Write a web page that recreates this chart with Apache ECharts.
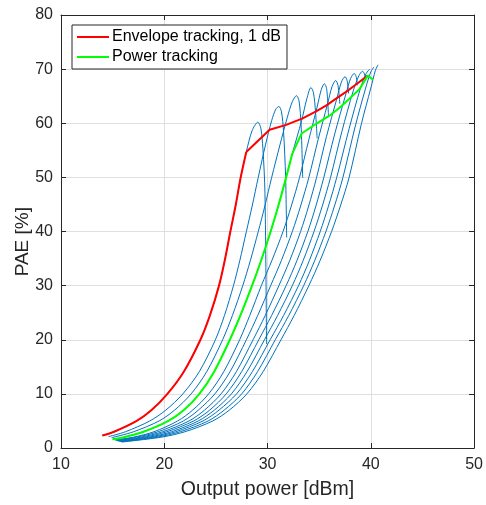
<!DOCTYPE html>
<html>
<head>
<meta charset="utf-8">
<script src="https://cdn.jsdelivr.net/npm/echarts@6/dist/echarts.min.js"></script>
<style>
html,body{margin:0;padding:0;background:#fff;}
#chart{width:486px;height:505px;}
</style>
</head>
<body>
<div id="chart"></div>
<script>
// Axis ticks
const xTicks = [10, 20, 30, 40, 50];
const yTicks = [0, 10, 20, 30, 40, 50, 60, 70, 80];

// Blue PAE curves, one per supply voltage: [Pout dBm, PAE %]
const vdd1 = [[14.0,2.3],[15.14,3],[17.33,5],[18.77,7],[20.3,10],[21.89,14.1],[23.5,20],[24.42,24.5],[25.3,30],[25.85,34.6],[26.4,40],[26.9,44.7],[27.4,50],[27.94,54.7],[28.5,58.6],[29.06,60.2],[29.35,59.1],[29.55,55.3],[29.75,47],[29.9,19.2]];
const vdd2 = [[14.6,2.1],[16.24,3],[18.6,5],[20.15,7],[21.8,10],[23.39,14.1],[24.95,20],[25.83,24.5],[26.7,30],[27.31,34.6],[27.95,40],[28.51,44.7],[29.1,50],[29.8,56],[30.4,60.5],[30.8,62.6],[31.1,63.1],[31.35,62.1],[31.55,58.4],[31.75,50],[31.85,38.9]];
const vdd3 = [[14.9,1.9],[17.02,3],[19.5,5],[21.0,7],[22.6,10],[24.11,14.1],[25.65,20],[26.6,24.5],[27.6,30],[28.33,34.6],[29.1,40],[29.74,44.7],[30.4,50],[31.2,56],[31.9,61],[32.4,64],[32.8,65.1],[33.05,64.1],[33.25,59.5],[33.4,49.9]];
const vdd4 = [[15.0,1.6],[16.1,2],[18.0,3],[20.4,5],[21.9,7],[23.4,10],[24.83,14.1],[26.35,20],[27.37,24.5],[28.5,30],[29.37,34.6],[30.3,40],[31.04,44.7],[31.8,50],[32.4,54.4],[33.3,60.5],[33.8,64.5],[34.2,66.6],[34.45,65.6],[34.65,62],[34.8,57.2]];
const vdd5 = [[15.2,1.5],[17.0,2],[19.0,3],[21.3,5],[22.75,7],[24.3,10],[25.76,14.1],[27.3,20],[28.28,24.5],[29.4,30],[30.41,34.6],[31.5,40],[32.3,44.7],[33.1,50],[34.0,57],[34.8,63],[35.2,66.2],[35.5,67.3],[35.72,66.4],[35.9,61.4]];
const vdd6 = [[15.3,1.4],[17.3,2],[19.4,3],[21.85,5],[23.3,7],[24.9,10],[26.37,14.1],[27.95,20],[29.05,24.5],[30.3,30],[31.33,34.6],[32.4,40],[33.2,44.7],[34.0,50],[34.9,57],[35.8,63.5],[36.25,66.8],[36.6,67.9],[36.82,67.0],[37.0,63.6]];
const vdd7 = [[15.4,1.35],[17.7,2],[19.85,3],[22.4,5],[23.9,7],[25.5,10],[26.98,14.1],[28.6,20],[29.78,24.5],[31.1,30],[32.14,34.6],[33.2,40],[33.98,44.7],[34.75,50],[35.7,57.5],[36.7,64.5],[37.15,67.6],[37.5,68.6],[37.7,67.9],[37.85,65.5]];
const vdd8 = [[15.5,1.3],[18.1,2],[20.25,3],[22.85,5],[24.4,7],[26.0,10],[27.49,14.1],[29.15,20],[30.4,24.5],[31.8,30],[32.84,34.6],[33.9,40],[34.68,44.7],[35.45,50],[36.5,58],[37.6,65.5],[38.05,68.3],[38.4,69.2],[38.58,68.6],[38.7,67.0]];
const vdd9 = [[15.6,1.25],[18.5,2],[20.7,3],[23.3,5],[24.85,7],[26.5,10],[28.01,14.1],[29.7,20],[30.98,24.5],[32.4,30],[33.44,34.6],[34.5,40],[35.3,44.7],[36.1,50],[37.2,58.5],[38.3,66],[38.85,68.8],[39.2,69.6],[39.38,69.1],[39.5,68.0]];
const vdd10 = [[15.7,1.2],[18.9,2],[21.1,3],[23.75,5],[25.3,7],[27.0,10],[28.53,14.1],[30.25,20],[31.56,24.5],[33.0,30],[34.04,34.6],[35.1,40],[35.9,44.7],[36.7,50],[37.9,59],[39.0,66.5],[39.55,69.2],[39.9,70.0]];
const vdd11 = [[15.8,1.15],[19.3,2],[21.55,3],[24.25,5],[25.8,7],[27.5,10],[29.03,14.1],[30.75,20],[32.06,24.5],[33.5,30],[34.56,34.6],[35.65,40],[36.48,44.7],[37.3,50],[38.5,59.5],[39.5,66.5],[40.0,69.5],[40.3,70.4]];
const vdd12 = [[15.9,1.1],[19.7,2],[22.0,3],[24.7,5],[26.3,7],[28.0,10],[29.57,14.1],[31.3,20],[32.58,24.5],[34.0,30],[35.08,34.6],[36.2,40],[37.05,44.7],[37.9,50],[39.1,60],[40.0,66.5],[40.45,69.8],[40.7,70.8]];

// Envelope tracking (red): follows vdd1 up to the kink, then the envelope
const envelopeUpper = [[27.94,54.7],[30.2,58.8],[31.8,59.7],[33.4,60.9],[34.7,62.2],[35.7,63.3],[36.6,64.5],[37.6,65.8],[38.6,67.2],[39.7,68.8]];
// Power tracking (green): follows vdd4 up to the kink, then its own path
const powerUpper = [[32.4,54.4],[33.3,58.1],[34.7,59.9],[36.0,61.4],[37.0,62.9],[37.9,64.5],[38.9,66.3],[39.7,68.8],[40.2,68.1]];

const curves = [vdd1,vdd2,vdd3,vdd4,vdd5,vdd6,vdd7,vdd8,vdd9,vdd10,vdd11,vdd12];
const envelopeLower = vdd1.filter(p => p[0] <= 27.94);
const powerLower = vdd4.filter(p => p[0] <= 32.4);

const BLUE = '#0072BD', RED = '#FF0000', GREEN = '#00FF00';
const FONT = 'Liberation Sans, Arial, Helvetica, sans-serif';
const AX = '#262626';
const SMOOTH = 0.3;

const series = [];
curves.forEach((c, i) => {
  series.push({
    name: 'Vdd' + (i + 1), type: 'line', data: c, smooth: SMOOTH,
    showSymbol: false, symbol: 'none', silent: true,
    lineStyle: { color: BLUE, width: 1 }, z: 2
  });
});
const ENV = 'Envelope tracking, 1 dB', PWR = 'Power tracking';
series.push({ name: ENV, type: 'line', data: envelopeLower, smooth: SMOOTH, symbol: 'none', lineStyle: { color: RED, width: 2 }, itemStyle: { color: RED }, z: 5 });
series.push({ name: ENV, type: 'line', data: envelopeUpper, smooth: false, symbol: 'none', lineStyle: { color: RED, width: 2 }, itemStyle: { color: RED }, z: 5 });
series.push({ name: PWR, type: 'line', data: powerLower, smooth: SMOOTH, symbol: 'none', lineStyle: { color: GREEN, width: 2 }, itemStyle: { color: GREEN }, z: 5 });
series.push({ name: PWR, type: 'line', data: powerUpper, smooth: false, symbol: 'none', lineStyle: { color: GREEN, width: 2 }, itemStyle: { color: GREEN }, z: 5 });

const chart = echarts.init(document.getElementById('chart'), null, { renderer: 'canvas' });
const baseAxis = (pos) => ({
  type: 'value', position: pos,
  axisLine: { show: true, onZero: false, lineStyle: { color: AX, width: 1 } },
  axisTick: { show: true, inside: true, length: 5, lineStyle: { color: AX } },
  splitLine: { show: false }
});
chart.setOption({
  animation: false,
  backgroundColor: '#ffffff',
  textStyle: { fontFamily: FONT },
  grid: { left: 61, right: 11, top: 15, bottom: 52, containLabel: false },
  legend: {
    data: [ENV, PWR], orient: 'vertical', left: 72, top: 25,
    icon: 'rect', itemWidth: 32, itemHeight: 2, itemGap: 4,
    padding: [4, 6, 4, 5],
    borderColor: AX, borderWidth: 1, backgroundColor: '#ffffff',
    textStyle: { fontFamily: FONT, fontSize: 16, color: '#000', padding: [0, 0, 0, -2] },
    selectedMode: false
  },
  graphic: [{
    type: 'text', left: 13, top: 207, rotation: Math.PI / 2,
    style: { text: 'PAE [%]', font: '19px ' + FONT, fill: AX }
  }],
  xAxis: [
    Object.assign(baseAxis('bottom'), {
      min: xTicks[0], max: xTicks[xTicks.length - 1], interval: xTicks[1] - xTicks[0],
      name: 'Output power [dBm]', nameLocation: 'middle', nameGap: 32,
      nameTextStyle: { fontFamily: FONT, fontSize: 19.5, color: AX },
      axisLabel: { show: true, margin: 9, fontSize: 16, color: AX, fontFamily: FONT },
      splitLine: { show: true, lineStyle: { color: '#dfdfdf', width: 1 } }
    }),
    Object.assign(baseAxis('top'), {
      min: xTicks[0], max: xTicks[xTicks.length - 1], interval: xTicks[1] - xTicks[0],
      axisLabel: { show: false }
    })
  ],
  yAxis: [
    Object.assign(baseAxis('left'), {
      min: yTicks[0], max: yTicks[yTicks.length - 1], interval: yTicks[1] - yTicks[0],
      axisLabel: { show: true, margin: 8, fontSize: 16, color: AX, fontFamily: FONT },
      splitLine: { show: true, lineStyle: { color: '#dfdfdf', width: 1 } }
    }),
    Object.assign(baseAxis('right'), {
      min: yTicks[0], max: yTicks[yTicks.length - 1], interval: yTicks[1] - yTicks[0],
      axisLabel: { show: false }
    })
  ],
  series: series
});
</script>
</body>
</html>
